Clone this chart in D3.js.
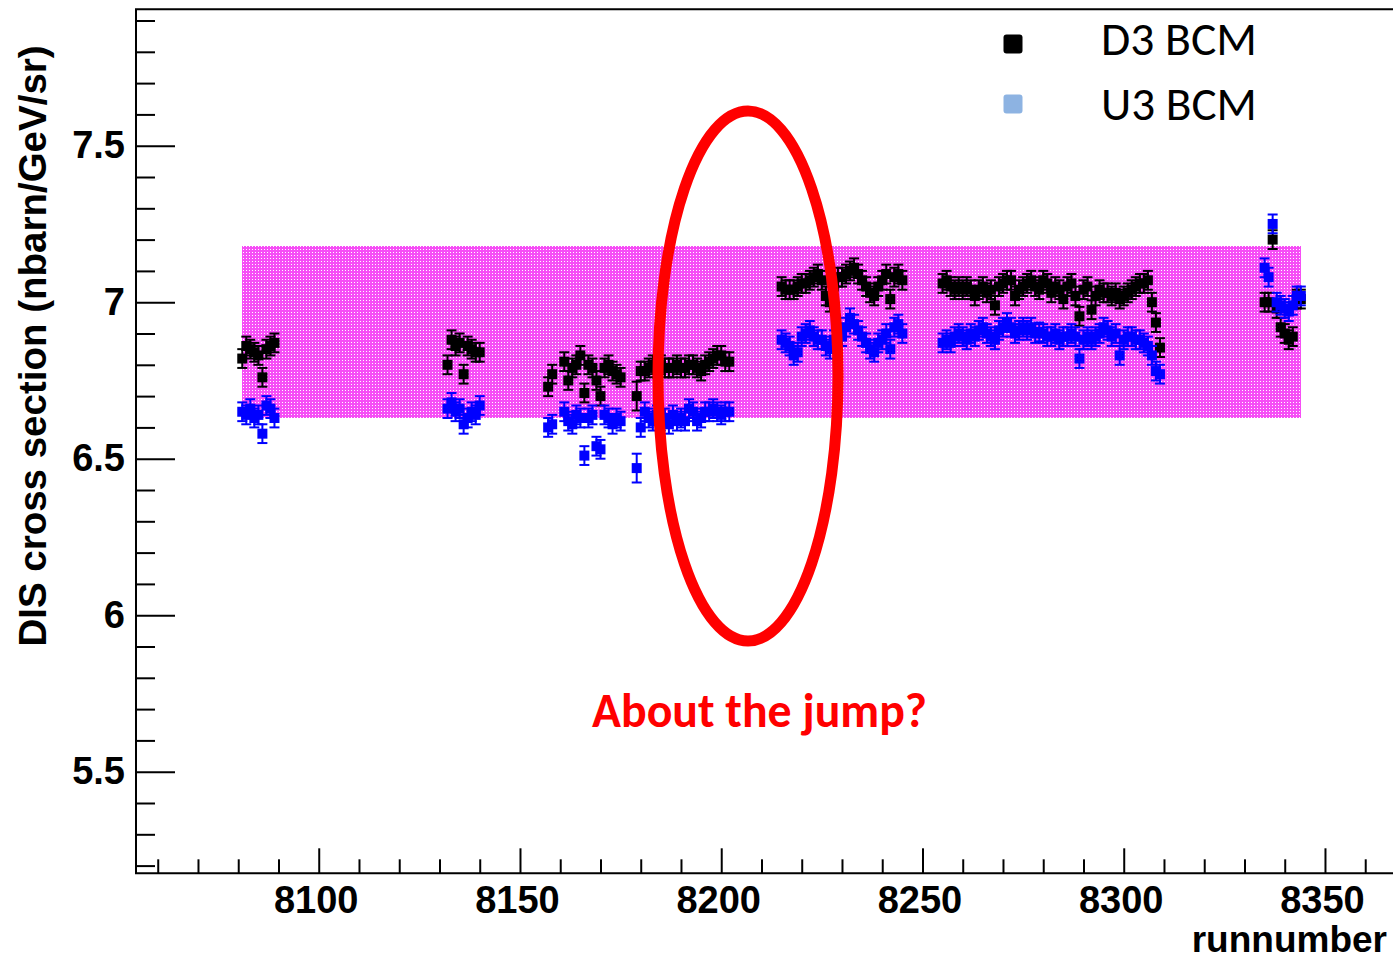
<!DOCTYPE html>
<html>
<head>
<meta charset="utf-8">
<script src="https://cdn.jsdelivr.net/npm/d3@7"></script>
<style>
  html, body { margin: 0; padding: 0; background: #fff; }
  svg { display: block; }
</style>
</head>
<body>
<svg id="chart" width="1393" height="961"></svg>
<script>
// ---------------- DATA ----------------
const runs = [
  8081, 8082, 8083, 8084, 8085, 8086, 8087, 8088, 8089,
  8132, 8133, 8134, 8135, 8136, 8137, 8138, 8139, 8140,
  8157, 8158, 8161, 8162, 8163, 8164, 8165, 8166, 8167, 8168, 8169, 8170, 8171, 8172, 8173, 8174, 8175,
  8179, 8180, 8181, 8182, 8183, 8184, 8185, 8186, 8187, 8188, 8189, 8190, 8191, 8192, 8193, 8194, 8195,
  8196, 8197, 8198, 8199, 8200, 8201, 8202,
  8215, 8216, 8217, 8218, 8219, 8220, 8221, 8222, 8223, 8224, 8225, 8226, 8227, 8228, 8229, 8230,
  8231, 8232, 8233, 8234, 8235, 8236, 8237, 8238, 8239, 8240, 8241, 8242, 8243, 8244, 8245,
  8255, 8256, 8257, 8258, 8259, 8260, 8261, 8262, 8263, 8264, 8265, 8266, 8267, 8268, 8269, 8270,
  8271, 8272, 8273, 8274, 8275, 8276, 8277, 8278, 8279, 8280, 8281, 8282, 8283, 8284, 8285, 8286,
  8287, 8288, 8289, 8290, 8291, 8292, 8293, 8294, 8295, 8296, 8297, 8298, 8299, 8300, 8301, 8302,
  8303, 8304, 8305, 8306, 8307, 8308, 8309,
  8335, 8336, 8337, 8338, 8339, 8340, 8341, 8342, 8343, 8344
];
const d3BCM = [
  6.82, 6.86, 6.85, 6.84, 6.83, 6.76, 6.85, 6.86, 6.87,
  6.80, 6.88, 6.86, 6.87, 6.77, 6.86, 6.85, 6.84, 6.84,
  6.73, 6.77, 6.81, 6.75, 6.79, 6.80, 6.83, 6.71, 6.80, 6.79, 6.75, 6.70, 6.79, 6.80, 6.78, 6.77, 6.76,
  6.70, 6.78, 6.78, 6.79, 6.80, 6.79, 6.80, 6.79, 6.79, 6.79, 6.80, 6.79, 6.79, 6.80, 6.80, 6.79, 6.78,
  6.80, 6.81, 6.82, 6.83, 6.83, 6.81, 6.81,
  7.05, 7.04, 7.04, 7.04, 7.05, 7.06, 7.06, 7.07, 7.08, 7.09, 7.07, 7.02, 7.00, 7.05, 7.08, 7.08,
  7.09, 7.10, 7.11, 7.09, 7.07, 7.05, 7.03, 7.02, 7.05, 7.07, 7.09, 7.01, 7.08, 7.09, 7.07,
  7.06, 7.07, 7.05, 7.04, 7.05, 7.04, 7.05, 7.04, 7.02, 7.04, 7.05, 7.03, 7.04, 6.99, 7.05, 7.06,
  7.07, 7.07, 7.02, 7.04, 7.05, 7.06, 7.07, 7.05, 7.04, 7.07, 7.06, 7.03, 7.05, 7.04, 7.01, 7.05,
  7.06, 7.02, 6.955, 7.04, 7.05, 6.976, 7.02, 7.04, 7.03, 7.03, 7.02, 7.03, 7.01, 7.02, 7.03, 7.04,
  7.05, 7.06, 7.06, 7.07, 7.00, 6.935, 6.855,
  7.00, 7.00, 7.20, 6.98, 6.92, 6.90, 6.88, 6.89, 7.01, 7.01
];
const u3BCM = [
  6.65, 6.64, 6.66, 6.63, 6.64, 6.58, 6.67, 6.66, 6.63,
  6.66, 6.68, 6.65, 6.66, 6.61, 6.63, 6.65, 6.64, 6.67,
  6.60, 6.61, 6.65, 6.62, 6.61, 6.64, 6.63, 6.51, 6.63, 6.64, 6.54, 6.53, 6.64, 6.63, 6.61, 6.63, 6.62,
  6.47, 6.60, 6.65, 6.63, 6.62, 6.64, 6.62, 6.63, 6.61, 6.64, 6.62, 6.63, 6.62, 6.66, 6.65, 6.62, 6.63,
  6.65, 6.65, 6.66, 6.65, 6.64, 6.65, 6.65,
  6.88, 6.87, 6.86, 6.83, 6.84, 6.89, 6.90, 6.91, 6.89, 6.88, 6.88, 6.86, 6.85, 6.88, 6.90, 6.89,
  6.92, 6.95, 6.93, 6.91, 6.89, 6.87, 6.85, 6.84, 6.87, 6.88, 6.90, 6.85, 6.92, 6.93, 6.90,
  6.87, 6.88, 6.87, 6.89, 6.90, 6.89, 6.88, 6.90, 6.89, 6.91, 6.92, 6.90, 6.89, 6.88, 6.91, 6.92,
  6.935, 6.92, 6.90, 6.91, 6.92, 6.91, 6.92, 6.90, 6.905, 6.90, 6.89, 6.89, 6.90, 6.88, 6.89, 6.89,
  6.90, 6.89, 6.82, 6.88, 6.89, 6.88, 6.89, 6.90, 6.92, 6.91, 6.89, 6.90, 6.83, 6.88, 6.89, 6.89,
  6.88, 6.88, 6.87, 6.86, 6.83, 6.78, 6.77,
  7.11, 7.08, 7.25, 7.00, 6.99, 6.98, 6.97, 6.99, 7.02, 7.02
];
const typicalError = 0.03;
const largeErrorRuns = [8179];      // runs with visibly larger error bars
const largeError = 0.046;

const band = [8080.9, 8344.0, 6.63, 7.18];   // run range, value range of the ±4% band

const yMajorTicks = [5.5, 6, 6.5, 7, 7.5];
const yMinorTicks = [5.2, 5.3, 5.4, 5.6, 5.7, 5.8, 5.9, 6.1, 6.2, 6.3, 6.4, 6.6, 6.7, 6.8, 6.9,
                     7.1, 7.2, 7.3, 7.4, 7.6, 7.7, 7.8, 7.9];
const xMajorTicks = [8100, 8150, 8200, 8250, 8300, 8350];
const xMinorTicks = [8060, 8070, 8080, 8090, 8110, 8120, 8130, 8140, 8160, 8170, 8180, 8190,
                     8210, 8220, 8230, 8240, 8260, 8270, 8280, 8290, 8310, 8320, 8330, 8340, 8360];

const seriesNames = ["D3 BCM", "U3 BCM"];
const annotation = "About the jump?";
const xTitle = "runnumber";
const yTitle = "DIS cross section (nbarn/GeV/sr)";

// ---------------- LAYOUT ----------------
const svg = d3.select("#chart");
const L = 136, R = 1393, T = 9.3, B = 873.3;
const x = d3.scaleLinear().domain([8054.6, 8366.9]).range([L, R]);
const y = d3.scaleLinear().domain([5.1754, 7.9358]).range([B, T]);

svg.append("rect").attr("width", 1393).attr("height", 961).attr("fill", "#fff");

const defs = svg.append("defs");
const pat = defs.append("pattern").attr("id", "dots").attr("width", 3).attr("height", 3)
  .attr("patternUnits", "userSpaceOnUse");
pat.append("rect").attr("width", 3).attr("height", 3).attr("fill", "#f64ef6");
pat.append("rect").attr("x", 0).attr("y", 0).attr("width", 1).attr("height", 1).attr("fill", "#ffffff");

defs.append("clipPath").attr("id", "plotclip").append("rect")
  .attr("x", L).attr("y", T).attr("width", R - L).attr("height", B - T);

// band
svg.append("rect")
  .attr("x", x(band[0])).attr("y", y(band[3]))
  .attr("width", x(band[1]) - x(band[0])).attr("height", y(band[2]) - y(band[3]))
  .attr("fill", "url(#dots)").attr("shape-rendering", "crispEdges");

// data points
const pts = runs.map((r, i) => ({
  run: r, d3v: d3BCM[i], u3v: u3BCM[i],
  err: largeErrorRuns.includes(r) ? largeError : typicalError
}));
const plot = svg.append("g").attr("clip-path", "url(#plotclip)");

function drawSeries(key, color) {
  const g = plot.append("g");
  const cap = 5;
  const half = 5;
  const grp = g.selectAll("g").data(pts).join("g");
  grp.append("line")
    .attr("x1", d => x(d.run)).attr("x2", d => x(d.run))
    .attr("y1", d => y(d[key] - d.err)).attr("y2", d => y(d[key] + d.err))
    .attr("stroke", color).attr("stroke-width", 2);
  grp.append("line")
    .attr("x1", d => x(d.run) - cap).attr("x2", d => x(d.run) + cap)
    .attr("y1", d => y(d[key] - d.err)).attr("y2", d => y(d[key] - d.err))
    .attr("stroke", color).attr("stroke-width", 2);
  grp.append("line")
    .attr("x1", d => x(d.run) - cap).attr("x2", d => x(d.run) + cap)
    .attr("y1", d => y(d[key] + d.err)).attr("y2", d => y(d[key] + d.err))
    .attr("stroke", color).attr("stroke-width", 2);
  grp.append("rect")
    .attr("x", d => x(d.run) - half).attr("y", d => y(d[key]) - half)
    .attr("width", 2 * half).attr("height", 2 * half).attr("fill", color);
}
drawSeries("d3v", "#000000");
drawSeries("u3v", "#0000ff");

// axes
const tickFont = "'Liberation Sans', Arial, Helvetica, sans-serif";
const yMajor = svg.append("g").attr("transform", `translate(${L},0)`)
  .call(d3.axisLeft(y).tickValues(yMajorTicks).tickSize(-39).tickPadding(11)
    .tickFormat(d3.format("")));
const yMinor = svg.append("g").attr("transform", `translate(${L},0)`)
  .call(d3.axisLeft(y).tickValues(yMinorTicks).tickSize(-19).tickFormat(""));
const xMajor = svg.append("g").attr("transform", `translate(0,${B})`)
  .call(d3.axisBottom(x).tickValues(xMajorTicks).tickSize(-25).tickPadding(12)
    .tickFormat(d3.format("d")));
const xMinor = svg.append("g").attr("transform", `translate(0,${B})`)
  .call(d3.axisBottom(x).tickValues(xMinorTicks).tickSize(-14).tickFormat(""));
[yMajor, yMinor, xMajor, xMinor].forEach(g => {
  g.select(".domain").remove();
  g.selectAll(".tick line").attr("stroke", "#000").attr("stroke-width", 2);
  g.selectAll("text").attr("fill", "#000").style("font-family", tickFont)
    .style("font-weight", "bold").style("font-size", "38px");
});
xMajor.selectAll("text").attr("dy", "0.72em").attr("dx", "-0.08em");

// frame
svg.append("path")
  .attr("d", `M${R},${T}H${L}V${B}H${R}`)
  .attr("fill", "none").attr("stroke", "#000").attr("stroke-width", 2);

// axis titles
svg.append("text").attr("x", 1387).attr("y", 952).attr("text-anchor", "end")
  .style("font-family", tickFont).style("font-weight", "bold").style("font-size", "37px")
  .text(xTitle);
svg.append("text").attr("transform", "translate(46,346) rotate(-90)").attr("text-anchor", "middle")
  .style("font-family", tickFont).style("font-weight", "bold").style("font-size", "38.5px")
  .text(yTitle);

// annotation ellipse + text
svg.append("ellipse").attr("cx", 748).attr("cy", 376).attr("rx", 90).attr("ry", 265)
  .attr("fill", "none").attr("stroke", "#ff0000").attr("stroke-width", 11);

function fitWidth(sel, target) {
  const w = sel.node().getComputedTextLength();
  const fs = parseFloat(sel.style("font-size"));
  sel.style("font-size", (fs * target / w) + "px");
}
const calib = "Carlito, Lato, 'Open Sans', sans-serif";
const ann = svg.append("text").attr("x", 759.5).attr("y", 727).attr("text-anchor", "middle")
  .attr("fill", "#ff0000").style("font-family", calib).style("font-weight", "bold")
  .style("font-size", "40px").text(annotation);
fitWidth(ann, 335);

// legend
const legColors = ["#000000", "#8db3e2"];
const legY = [44, 104];
const legBase = [55, 120];
seriesNames.forEach((name, i) => {
  svg.append("rect").attr("x", 1013 - 9.5).attr("y", legY[i] - 9.5).attr("width", 19).attr("height", 19)
    .attr("rx", 3).attr("fill", legColors[i]);
  const t = svg.append("text").attr("x", 1101).attr("y", legBase[i]).attr("fill", "#000")
    .style("font-family", calib).style("font-size", "44px").text(name);
  fitWidth(t, 156);
});
</script>
</body>
</html>
